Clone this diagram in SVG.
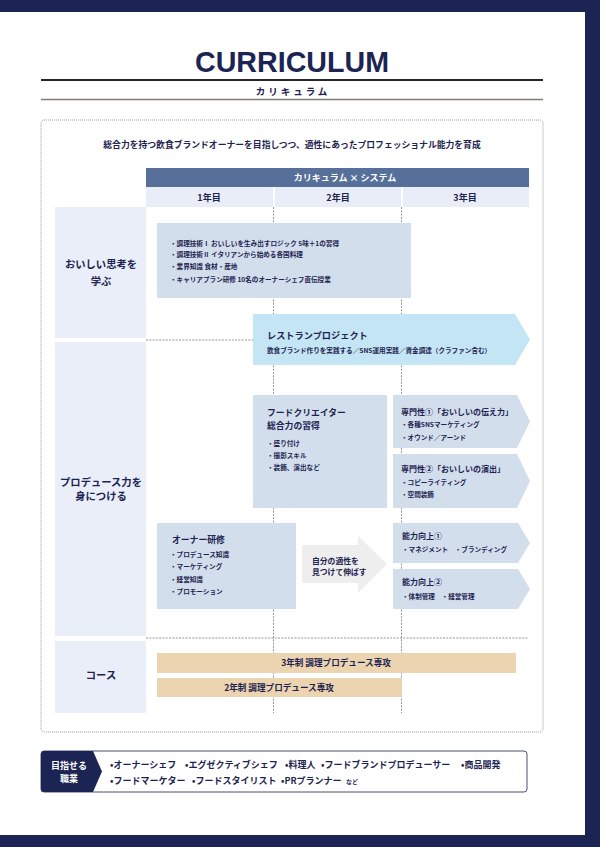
<svg xmlns="http://www.w3.org/2000/svg" width="600" height="847" viewBox="0 0 600 847">
<style>
.jp{font-family:"Noto Sans CJK JP","Noto Sans",sans-serif;font-weight:700;fill:#1d2350}
.w{fill:#ffffff}
.s{font-size:6.6px;font-weight:700}
.lbl{font-size:10.3px}
.box{fill:#d3deed}
.side{fill:#e9eef8}
.vd{stroke:#7a7a7a;stroke-width:0.8;stroke-dasharray:2 1.3;fill:none}
.hd{stroke:#7a7a7a;stroke-width:0.8;stroke-dasharray:2 1.3;fill:none}
.tan{fill:#ebd4af}
.mid{text-anchor:middle}
</style>
<rect width="600" height="847" fill="#ffffff"/>
<g id="frame">
<rect x="0" y="0" width="600" height="12" fill="#1b2452"/>
<rect x="585" y="0" width="15" height="847" fill="#1b2452"/>
<rect x="0" y="835" width="600" height="12" fill="#1b2452"/>
</g>
<g id="title">
<text x="292" y="72" text-anchor="middle" font-family="'Liberation Sans',Arial,sans-serif" font-weight="700" font-size="30" fill="#1b2452" textLength="194" lengthAdjust="spacingAndGlyphs">CURRICULUM</text>
<line x1="41" y1="80" x2="543" y2="80" stroke="#2a2524" stroke-width="2"/>
<text x="293" y="95" class="jp mid" font-size="9.5" letter-spacing="3">カリキュラム</text>
<line x1="41" y1="99.5" x2="543" y2="99.5" stroke="#857c78" stroke-width="1.6"/>
</g>
<rect x="41" y="120" width="502" height="612" rx="3" fill="none" stroke="#9a9a9a" stroke-width="1" stroke-dasharray="1 1"/>
<text x="292" y="148" class="jp mid" font-size="8.8">総合力を持つ飲食ブランドオーナーを目指しつつ、適性にあったプロフェッショナル能力を育成</text>
<g id="header">
<rect x="146" y="168" width="383" height="19" fill="#56709a"/>
<text x="345" y="181" class="jp w mid" font-size="9">カリキュラム × システム</text>
<rect x="146" y="187" width="127" height="20" fill="#e8edf7"/>
<rect x="275" y="187" width="126" height="20" fill="#e8edf7"/>
<rect x="403" y="187" width="126" height="20" fill="#e8edf7"/>
<text x="209" y="200.5" class="jp mid" font-size="9">1年目</text>
<text x="338" y="200.5" class="jp mid" font-size="9">2年目</text>
<text x="465" y="200.5" class="jp mid" font-size="9">3年目</text>
</g>
<g id="connectors">
<line class="vd" x1="273.5" y1="207" x2="273.5" y2="713"/>
<line class="vd" x1="401.5" y1="207" x2="401.5" y2="713"/>
<line class="hd" x1="146" y1="340" x2="529" y2="340"/>
<line class="hd" x1="146" y1="638" x2="529" y2="638"/>
</g>
<g id="row-oishii">
<rect class="side" x="55" y="207" width="91" height="131"/>
<text x="101" y="268" class="jp lbl mid">おいしい思考を</text>
<text x="101" y="285" class="jp lbl mid">学ぶ</text>
</g>
<g id="row-produce">
<rect class="side" x="55" y="342" width="91" height="294"/>
<text x="101" y="486" class="jp lbl mid">プロデュース力を</text>
<text x="101" y="500" class="jp lbl mid">身につける</text>
</g>
<g id="row-course">
<rect class="side" x="55" y="641" width="91" height="72"/>
<text x="101" y="679" class="jp lbl mid">コース</text>
</g>
<g id="box-skills">
<rect class="box" x="157" y="223" width="254" height="75"/>
<text class="jp s" x="170" y="245.5">・調理技術Ⅰ おいしいを生み出すロジック 5味＋1の習得</text>
<text class="jp s" x="170" y="257">・調理技術Ⅱ イタリアンから始める各国料理</text>
<text class="jp s" x="170" y="269">・業界知識 食材・産地</text>
<text class="jp s" x="170" y="281.5">・キャリアプラン研修 10名のオーナーシェフ直伝授業</text>
</g>
<g id="restaurant">
<polygon points="253,314 515,314 530,339.5 515,365 253,365" fill="#c4e5f3"/>
<text class="jp" x="267" y="339" font-size="9.2">レストランプロジェクト</text>
<text class="jp s" x="267" y="352.5" font-size="6.8">飲食ブランド作りを実践する／SNS運用実践／資金調達（クラファン含む）</text>
</g>
<g id="food-creator">
<rect class="box" x="253" y="395" width="134" height="113"/>
<text class="jp" x="267" y="416" font-size="8.8">フードクリエイター</text>
<text class="jp" x="267" y="428.5" font-size="8.8">総合力の習得</text>
<text class="jp s" x="267" y="445.5">・盛り付け</text>
<text class="jp s" x="267" y="457.5">・撮影スキル</text>
<text class="jp s" x="267" y="470">・装飾、演出など</text>
</g>
<g id="senmon1">
<polygon class="box" points="393,395 517,395 530,421.5 517,448 393,448"/>
<text class="jp" x="401" y="415" font-size="8">専門性①「おいしいの伝え力」</text>
<text class="jp s" x="401" y="426.5" font-size="6.2">・各種SNSマーケティング</text>
<text class="jp s" x="401" y="439.5" font-size="6.2">・オウンド／アーンド</text>
</g>
<g id="senmon2">
<polygon class="box" points="393,454 517,454 530,481 517,508 393,508"/>
<text class="jp" x="401" y="472" font-size="8">専門性②「おいしいの演出」</text>
<text class="jp s" x="401" y="484.5" font-size="6.2">・コピーライティング</text>
<text class="jp s" x="401" y="496.5" font-size="6.2">・空間装飾</text>
</g>
<g id="owner">
<rect class="box" x="157" y="523" width="139" height="86"/>
<text class="jp" x="172" y="542.5" font-size="8.8">オーナー研修</text>
<text class="jp s" x="170" y="556.5">・プロデュース知識</text>
<text class="jp s" x="170" y="569">・マーケティング</text>
<text class="jp s" x="170" y="581.5">・経営知識</text>
<text class="jp s" x="170" y="593.5">・プロモーション</text>
</g>
<g id="tekisei">
<polygon points="302,545 358,545 358,536 387,564 358,593 358,583 302,583" fill="#eeeeee"/>
<text class="jp" x="312" y="564" font-size="7.8">自分の適性を</text>
<text class="jp" x="312" y="575" font-size="7.8">見つけて伸ばす</text>
</g>
<g id="nouryoku1">
<polygon class="box" points="393,523 518,523 530,543 518,563 393,563"/>
<text class="jp" x="402" y="538.5" font-size="8">能力向上①</text>
<text class="jp s" x="402" y="551.5" font-size="6.2">・マネジメント　・ブランディング</text>
</g>
<g id="nouryoku2">
<polygon class="box" points="393,569 518,569 530,589 518,609 393,609"/>
<text class="jp" x="402" y="585" font-size="8">能力向上②</text>
<text class="jp s" x="402" y="598.5" font-size="6.2">・体制管理　・経営管理</text>
</g>
<g id="course3">
<rect class="tan" x="157" y="653" width="359" height="20"/>
<text class="jp mid" x="336" y="666" font-size="8.6">3年制 調理プロデュース専攻</text>
</g>
<g id="course2">
<rect class="tan" x="157" y="678" width="245" height="19"/>
<text class="jp mid" x="279" y="690.5" font-size="8.6">2年制 調理プロデュース専攻</text>
</g>
<g id="jobs">
<rect x="41" y="751" width="486" height="41" rx="3" fill="#ffffff" stroke="#4b5072" stroke-width="1"/>
<path d="M44,751 H93 L102,771.5 L93,792 H44 A3,3 0 0 1 41,789 V754 A3,3 0 0 1 44,751 Z" fill="#1b2452"/>
<text class="jp w mid" x="69" y="768.5" font-size="9">目指せる</text>
<text class="jp w mid" x="69" y="781.5" font-size="9">職業</text>
<text class="jp" font-size="9" y="767.5"><tspan x="110">•オーナーシェフ</tspan><tspan x="185">•エグゼクティブシェフ</tspan><tspan x="285">•料理人</tspan><tspan x="321">•フードブランドプロデューサー</tspan><tspan x="461">•商品開発</tspan></text>
<text class="jp" font-size="9" y="783.5"><tspan x="110">•フードマーケター</tspan><tspan x="192">•フードスタイリスト</tspan><tspan x="281">•PRプランナー</tspan><tspan x="346" font-size="6">など</tspan></text>
</g>
</svg>
